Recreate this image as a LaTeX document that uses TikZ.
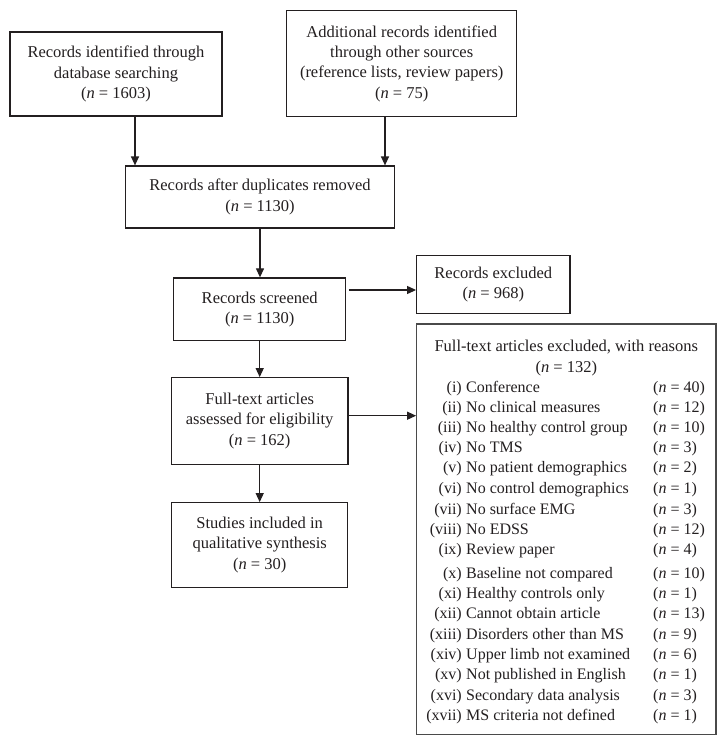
\documentclass[tikz,border=0pt]{standalone}
\usepackage{fontspec}
\setmainfont{Liberation Serif}
\usetikzlibrary{arrows.meta}
\definecolor{ink}{HTML}{231F20}
\definecolor{frame}{HTML}{4A4A4A}
\begin{document}
\begin{tikzpicture}[x=1pt,y=-1pt,
 box/.style={draw=ink, line width=1.2pt, inner sep=0pt, align=center, text=ink, font=\fontsize{16.5}{20.3}\selectfont},
 arr/.style={draw=ink, line width=1.2pt, -{Triangle[length=9pt,width=8pt]}},
 lst/.style={inner sep=0pt, text=ink, font=\fontsize{16}{18}\selectfont}]
\useasboundingbox (0,0) rectangle (727,745);
\fill[white] (0,0) rectangle (727,745);
\node[box, minimum width=212pt, minimum height=84pt] (b1) at (116,74) {Records identified through\\database searching\\(\textit{n} = 1603)};
\node[box, minimum width=230pt, minimum height=105.6pt] (b2) at (401.7,63.5) {Additional records identified\\through other sources\\(reference lists, review papers)\\(\textit{n} = 75)};
\node[box, minimum width=268.3pt, minimum height=62pt] (b3) at (260,197) {Records after duplicates removed\\(\textit{n} = 1130)};
\node[box, minimum width=172pt, minimum height=62.7pt] (scr) at (259.7,309.3) {Records screened\\(\textit{n} = 1130)};
\node[box, minimum width=153.3pt, minimum height=57.6pt] (exc) at (493.3,284.5) {Records excluded\\(\textit{n} = 968)};
\node[box, minimum width=176.7pt, minimum height=86.6pt] (ft) at (259.7,421) {Full-text articles\\assessed for eligibility\\(\textit{n} = 162)};
\node[box, minimum width=176pt, minimum height=84.6pt] (st) at (259.7,545) {Studies included in\\qualitative synthesis\\(\textit{n} = 30)};
\node[box, draw=frame, minimum width=299.3pt, minimum height=410.3pt] (ex2) at (566.35,529.15) {};
\node[box, draw=none, anchor=center] (ex2t) at (566.3,358) {Full-text articles excluded, with reasons\\(\textit{n} = 132)};
\foreach \r/\t/\v/\y [count=\k] in {
 (i)/Conference/40/390,
 (ii)/No clinical measures/12/410,
 (iii)/No healthy control group/10/430,
 (iv)/No TMS/3/450,
 (v)/No patient demographics/2/470,
 (vi)/No control demographics/1/491,
 (vii)/No surface EMG/3/512,
 (viii)/No EDSS/12/532,
 (ix)/Review paper/4/552,
 (x)/Baseline not compared/10/576,
 (xi)/Healthy controls only/1/596,
 (xii)/Cannot obtain article/13/616,
 (xiii)/Disorders other than MS/9/637,
 (xiv)/Upper limb not examined/6/657,
 (xv)/Not published in English/1/677,
 (xvi)/Secondary data analysis/3/698,
 (xvii)/MS criteria not defined/1/718}{
 \node[lst, anchor=mid east] (r\k) at (462,\y) {\r};
 \node[lst, anchor=mid west] (t\k) at (466,\y) {\t};
 \node[lst, anchor=mid west] (v\k) at (653,\y) {(\textit{n} = \v)};
}
\draw[arr] ([xshift=19pt]b1.south) -- ([xshift=19pt]b1.south |- b3.north);
\draw[arr] ([xshift=-16.7pt]b2.south) -- ([xshift=-16.7pt]b2.south |- b3.north);
\draw[arr] (b3.south) -- (b3.south |- scr.north);
\draw[arr] (scr.south) -- (scr.south |- ft.north);
\draw[arr] (ft.south) -- (ft.south |- st.north);
\coordinate (e1) at ([yshift=-5.5pt]exc.west);
\draw[arr, shorten <=2.5pt] (scr.east |- e1) -- (e1);
\coordinate (e2) at ([yshift=5.3pt]ft.east);
\draw[arr, shorten <=0.5pt] (e2) -- (e2 -| ex2.west);
\end{tikzpicture}
\end{document}
